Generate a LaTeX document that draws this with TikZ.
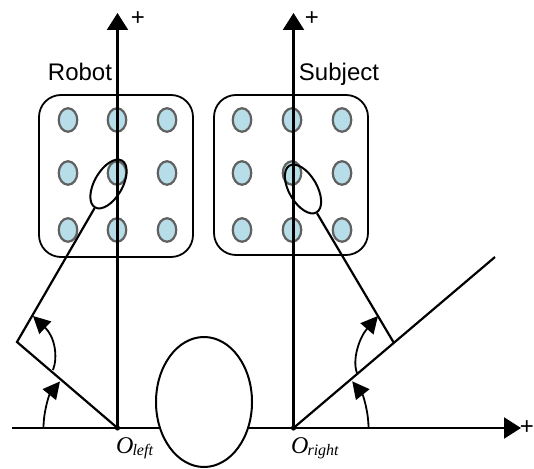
\documentclass[tikz,border=0pt]{standalone}
\usepackage{fontspec}
\setmainfont{Liberation Serif}
\newfontfamily\labelfont{Liberation Sans}
\usetikzlibrary{arrows.meta,shapes.geometric,calc}
\definecolor{dotfill}{HTML}{B7DEE8}
\definecolor{dotline}{HTML}{606060}
\begin{document}
\begin{tikzpicture}[x=1pt,y=1pt,
  axis/.style={line width=2.2pt,-{Triangle[length=17pt,width=21pt]}},
  ray/.style={line width=2.2pt},
  anglearc/.style={line width=1.8pt,-{Triangle[length=17pt,width=17pt]}},
  panel/.style={draw,line width=1.8pt,rounded corners=22pt},
  dot/.style={ellipse,draw=dotline,fill=dotfill,line width=2.2pt,
    minimum width=18.5pt,minimum height=23.5pt,inner sep=0pt},
  eye/.style={ellipse,draw,line width=2pt,minimum width=54pt,
    minimum height=28pt,inner sep=0pt},
  head/.style={ellipse,draw,fill=white,line width=2pt,minimum width=96pt,
    minimum height=130pt,inner sep=0pt},
  tag/.style={font=\labelfont\fontsize{24}{24}\selectfont,anchor=base},
  plus/.style={font=\labelfont\fontsize{24}{24}\selectfont,inner sep=0pt},
  origin/.style={anchor=base west,inner sep=0pt},
]
\useasboundingbox (0,0) rectangle (534,468);

% origins and axis ends
\coordinate (Ol) at (117.5,40);
\coordinate (Or) at (293.5,40);
\coordinate (xs) at (12,40);
\coordinate (xe) at (521,40);
\coordinate (yl) at (117.5,455);
\coordinate (yr) at (293.5,455);

% panels with the 3x3 grids
\draw[panel] (39,211) rectangle (193,373);
\draw[panel] (214,213) rectangle (368,373);
\foreach \r [count=\i] in {348,295,238}{
  \foreach \c [count=\j] in {68,117,167}
    \node[dot] (l\i\j) at (\c,\r) {};
  \foreach \c [count=\j] in {242,292,342}
    \node[dot] (r\i\j) at (\c,\r) {};
}

% axes
\draw[axis] (xs) -- (xe);
\draw[axis] (Ol) -- (yl);
\draw[axis] (Or) -- (yr);
\node[plus] (pl) at (138,449) {+};
\node[plus] (pr) at (312,449) {+};
\node[plus,anchor=east] (px) at (534,40) {+};

% head between the two origins
\node[head] (hd) at (204,66) {};

% gaze ellipses
\node[eye,rotate=60] (el) at (108.5,284) {};
\node[eye,rotate=-60] (er) at (303,279) {};

% left chain
\coordinate (C) at (17,126);
\draw[ray] (el.west) -- (C) -- (Ol);
% right chain
\coordinate (E) at (495,211);
\coordinate (J) at ($(Or)!0.498!(E)$);
\draw[ray] (Or) -- (E);
\draw[ray] (er.east) -- (J);

% angle arcs
\draw[anglearc] ($(Ol)+(180:74)$) arc[start angle=180,end angle=141,radius=74];
\draw[anglearc] (53,98) .. controls (58,111) and (55,131) .. (33,152);
\draw[anglearc] ($(Or)+(0:75)$) arc[start angle=0,end angle=38.5,radius=75];
\draw[anglearc] (357,95) .. controls (352,108) and (359,130) .. (378,152);

% origin dots
\fill (Ol) circle (2.6pt);
\fill (Or) circle (2.6pt);

% labels
\node[tag] (robot) at (80,387) {Robot};
\node[tag] (subj) at (339,387) {Subject};
\node[origin] (ol) at (116,15) {{\fontsize{24}{24}\selectfont\itshape O}\kern-1pt\raisebox{-2.5pt}{\fontsize{16}{16}\selectfont\itshape left}};
\node[origin] (or) at (291,15) {{\fontsize{24}{24}\selectfont\itshape O}\kern-1pt\raisebox{-2.5pt}{\fontsize{16}{16}\selectfont\itshape right}};
\end{tikzpicture}
\end{document}
